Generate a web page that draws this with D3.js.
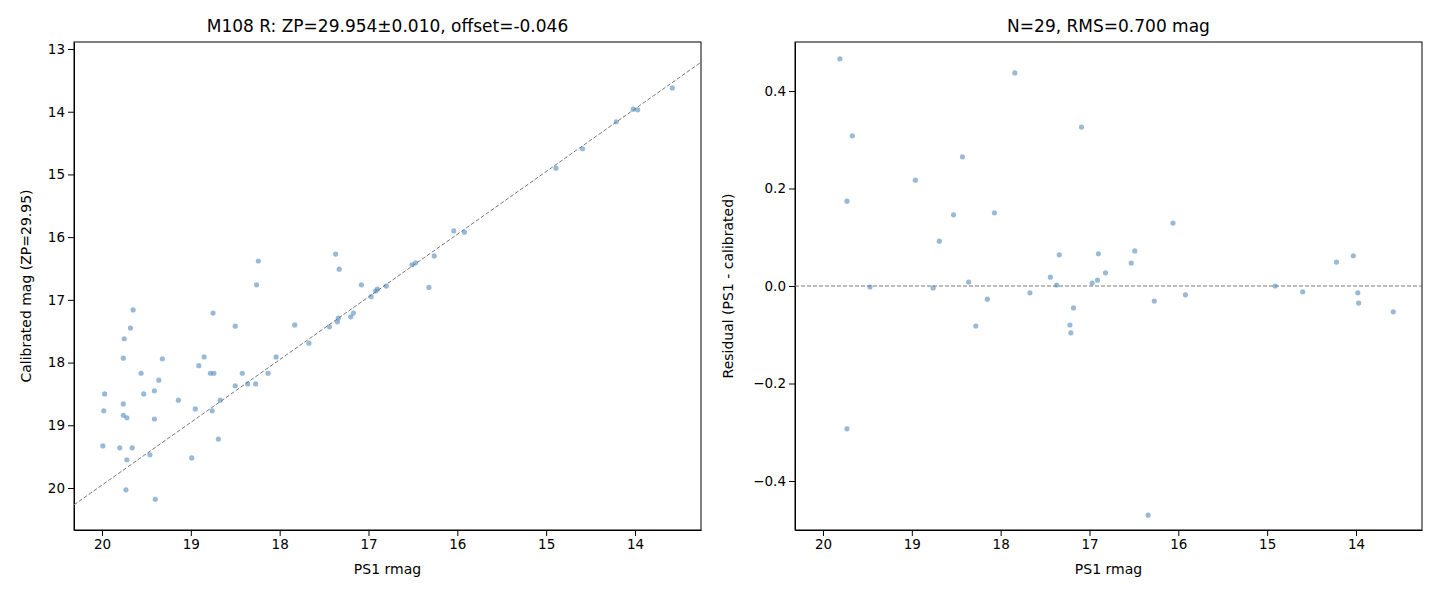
<!DOCTYPE html>
<meta charset="utf-8">
<title>M108 R calibration</title>
<style>
body{margin:0;background:#fff;font-family:'DejaVu Sans',sans-serif;}
.axis text{font-size:13.5px;font-family:'DejaVu Sans',sans-serif;fill:#000;}
.axis path,.axis line{stroke:#000;}
.ttl{font-size:17px;text-anchor:middle;}
.lbl{font-size:14px;text-anchor:middle;}
</style>
<svg width="1440" height="600"></svg>
<script src="https://d3js.org/d3.v7.min.js"></script>
<script>
// left panel: PS1 rmag vs calibrated mag
var calPs1 = [13.58,13.97,14.02,14.21,14.59,14.89,15.92,16.04,16.26,16.32,16.47,16.51,16.80,16.90,16.92,16.97,17.08,17.17,17.20,17.34,17.35,17.33,17.37,17.44,17.67,17.83,18.04,18.13,18.24,18.26,18.27,18.36,18.42,18.50,18.50,18.67,18.69,18.75,18.74,18.78,18.76,18.85,18.91,18.95,18.99,19.14,19.32,19.36,19.40,19.41,19.41,19.46,19.53,19.56,19.65,19.68,19.72,19.72,19.73,19.75,19.76,19.76,19.76,19.66,19.80,19.97,19.98,19.99];
var calMag = [13.62,13.97,13.96,14.16,14.59,14.90,15.92,15.90,16.30,16.80,16.41,16.44,16.78,16.83,16.86,16.95,16.76,17.21,17.27,17.29,17.35,16.51,16.27,17.43,17.69,17.40,17.91,18.17,16.38,16.76,18.34,18.34,18.17,18.37,17.42,18.60,19.22,17.21,18.17,18.17,18.77,17.91,18.05,18.74,19.52,18.60,17.94,18.28,20.18,18.45,18.90,19.47,18.50,18.17,17.16,17.45,19.55,18.88,20.03,17.62,17.93,18.66,18.84,19.36,19.36,18.50,18.77,19.33];
// right panel: residuals
var resPs1 = [19.81,19.67,19.73,19.73,19.47,18.96,18.69,18.76,18.53,18.43,18.36,18.28,18.15,18.07,17.84,17.67,17.44,17.37,17.34,17.22,17.21,17.18,17.09,16.97,16.91,16.90,16.82,16.53,16.49,16.34,16.27,16.06,15.92,14.91,14.60,14.22,14.03,13.98,13.97,13.58];
var resVal = [0.466,0.308,0.174,-0.293,-0.002,0.217,0.092,-0.004,0.146,0.265,0.008,-0.082,-0.027,0.150,0.437,-0.014,0.018,0.002,0.064,-0.080,-0.096,-0.045,0.326,0.006,0.012,0.066,0.027,0.047,0.072,-0.470,-0.031,0.129,-0.018,0.000,-0.012,0.049,0.062,-0.014,-0.035,-0.053];
var xTicks = [20,19,18,17,16,15,14];
var yTicksL = [13,14,15,16,17,18,19,20];
var yTicksR = [-0.4,-0.2,0.0,0.2,0.4];
var offset = -0.046;

var svg = d3.select("svg");
var top_ = 42, bot = 530;
var dotFill = "#4682b4";

function panel(x0, x1, yDom, yTicks, yFmt, title, ylabel, ylOff){
  var x = d3.scaleLinear().domain([20.315, 13.257]).range([x0, x1]);
  var y = d3.scaleLinear().domain(yDom).range([bot, top_]);
  var g = svg.append("g");
  g.append("g").attr("class","axis").attr("transform","translate(0,"+bot+")")
    .call(d3.axisBottom(x).tickValues(xTicks).tickFormat(d3.format("d")).tickSizeOuter(0));
  g.append("g").attr("class","axis").attr("transform","translate("+x0+",0)")
    .call(d3.axisLeft(y).tickValues(yTicks).tickFormat(yFmt).tickSizeOuter(0));
  g.selectAll(".axis text").text(function(){ return this.textContent.replace("-","\u2212"); });
  g.append("rect").attr("x",x0).attr("y",top_).attr("width",x1-x0).attr("height",bot-top_)
    .attr("fill","none").attr("stroke","#000");
  g.append("text").attr("class","ttl").attr("x",(x0+x1)/2).attr("y",top_-10).text(title);
  g.append("text").attr("class","lbl").attr("x",(x0+x1)/2).attr("y",bot+44).text("PS1 rmag");
  g.append("text").attr("class","lbl").attr("transform","translate("+(x0-ylOff)+","+((top_+bot)/2)+") rotate(-90)").text(ylabel);
  return {g:g,x:x,y:y};
}

var L = panel(74, 701, [20.67, 12.888], yTicksL, d3.format("d"),
  "M108 R: ZP=29.954\u00b10.010, offset=-0.046", "Calibrated mag (ZP=29.95)", 43);
L.g.append("line").attr("x1",L.x(20.315)).attr("y1",L.y(20.315+offset))
  .attr("x2",L.x(13.257)).attr("y2",L.y(13.257+offset))
  .attr("stroke","#777").attr("stroke-dasharray","4,2");
L.g.selectAll("circle").data(calPs1).enter().append("circle")
  .attr("cx",function(d){return L.x(d);}).attr("cy",function(d,i){return L.y(calMag[i]);})
  .attr("r",2.6).attr("fill",dotFill).attr("fill-opacity",0.55);

var R = panel(795, 1422, [-0.5005, 0.5005], yTicksR, d3.format(".1f"),
  "N=29, RMS=0.700 mag", "Residual (PS1 - calibrated)", 62);
R.g.append("line").attr("x1",795).attr("x2",1422).attr("y1",R.y(0)).attr("y2",R.y(0))
  .attr("stroke","#777").attr("stroke-dasharray","4,2");
R.g.selectAll("circle").data(resPs1).enter().append("circle")
  .attr("cx",function(d){return R.x(d);}).attr("cy",function(d,i){return R.y(resVal[i]);})
  .attr("r",2.6).attr("fill",dotFill).attr("fill-opacity",0.55);
</script>
